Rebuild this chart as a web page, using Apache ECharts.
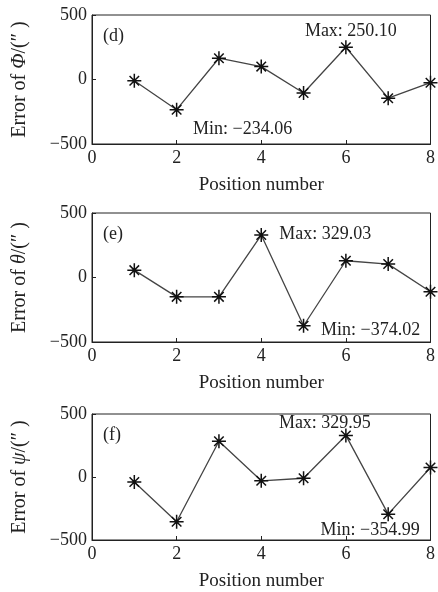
<!DOCTYPE html>
<html><head><meta charset="utf-8">
<script src="https://cdn.jsdelivr.net/npm/echarts@6/dist/echarts.min.js"></script>
<style>html,body{margin:0;padding:0;background:#fff}#c{width:438px;height:592px}</style>
</head><body><div id="c"></div>
<script>
// ---- data ----
const positions = [1, 2, 3, 4, 5, 6, 7, 8];
const errPhi   = [-10, -234.06, 165, 100, -105, 250.10, -145, -25];
const errTheta = [57, -150, -150, 329.03, -374.02, 130, 104, -110];
const errPsi   = [-40, -354.99, 284, -30, -10, 329.95, -295, 75];
const panelTags = ['(d)', '(e)', '(f)'];
const yNames = ['Φ', 'θ', 'ψ'];
const xTicks = [0, 2, 4, 6, 8];
const yTicks = [-500, 0, 500];
const maxText = ['Max: 250.10', 'Max: 329.03', 'Max: 329.95'];
const minText = ['Min: \u2212234.06', 'Min: \u2212374.02', 'Min: \u2212354.99'];
// index of the point each annotation is attached to, and its offset
const maxAt = [5, 3, 5];
const minAt = [1, 4, 6];
const maxOff = [[5, -16], [64, -1], [-21, -12]];
const minOff = [[66, 20], [67, 5], [-18, 16]];

const FONT = 'Liberation Serif';
const series = [errPhi, errTheta, errPsi];
const tops = [15, 213, 414];
const H = 129;

const star = 'path://M0,5L10,5M5,0L5,10M1.6,1.6L8.4,8.4M8.4,1.6L1.6,8.4';

const grids = [], xAxes = [], yAxes = [], ser = [], titles = [];
series.forEach((vals, i) => {
  grids.push({left: 92, right: 4.5, top: tops[i], height: H, show: true,
    borderColor: '#222', borderWidth: 1, backgroundColor: 'transparent'});
  xAxes.push({type: 'value', gridIndex: i, min: xTicks[0], max: xTicks[xTicks.length-1], interval: 2,
    axisLine: {show: true, onZero: false, lineStyle: {color: '#222'}},
    axisTick: {show: true, inside: true, length: 4, lineStyle: {color: '#222'}},
    splitLine: {show: false},
    axisLabel: {color: '#222', fontFamily: FONT, fontSize: 18, margin: 5, showMaxLabel: true, showMinLabel: true},
    name: 'Position number', nameLocation: 'middle', nameGap: 32,
    nameTextStyle: {color: '#222', fontFamily: FONT, fontSize: 19}});
  yAxes.push({type: 'value', gridIndex: i, min: yTicks[0], max: yTicks[yTicks.length-1], interval: 500,
    axisLine: {show: true, lineStyle: {color: '#222'}},
    axisTick: {show: true, inside: true, length: 4, lineStyle: {color: '#222'}},
    splitLine: {show: false},
    axisLabel: {color: '#222', fontFamily: FONT, fontSize: 18, margin: 5,
      formatter: v => String(v).replace('-', '\u2212')},
    name: '{n|Error of }{g|' + yNames[i] + '}{n|/(\u2033 )}', nameLocation: 'middle', nameGap: 62, nameRotate: 90,
    nameTextStyle: {rich: {
      n: {color: '#222', fontFamily: FONT, fontSize: 20},
      g: {color: '#222', fontFamily: FONT, fontSize: 20, fontStyle: 'italic'}}}});
  const data = vals.map((v, k) => {
    const item = {value: [positions[k], v]};
    if (k === maxAt[i] || k === minAt[i]) {
      const isMax = k === maxAt[i];
      item.label = {show: true, position: 'inside', align: 'center', verticalAlign: 'middle',
        offset: isMax ? maxOff[i] : minOff[i],
        formatter: isMax ? maxText[i] : minText[i],
        color: '#222', fontFamily: FONT, fontSize: 18};
    }
    return item;
  });
  ser.push({type: 'line', xAxisIndex: i, yAxisIndex: i, data: data,
    symbol: star, symbolSize: 14, showAllSymbol: true,
    itemStyle: {color: 'none', borderColor: '#111', borderWidth: 1.5},
    lineStyle: {color: '#444', width: 1.3}, animation: false, clip: false});
  titles.push({text: panelTags[i], left: 98, top: tops[i] + 7,
    textStyle: {color: '#222', fontFamily: FONT, fontSize: 18, fontWeight: 'normal'}});
});

const chart = echarts.init(document.getElementById('c'), null, {renderer: 'canvas'});
chart.setOption({animation: false, backgroundColor: '#fff', title: titles,
  grid: grids, xAxis: xAxes, yAxis: yAxes, series: ser});
</script></body></html>
